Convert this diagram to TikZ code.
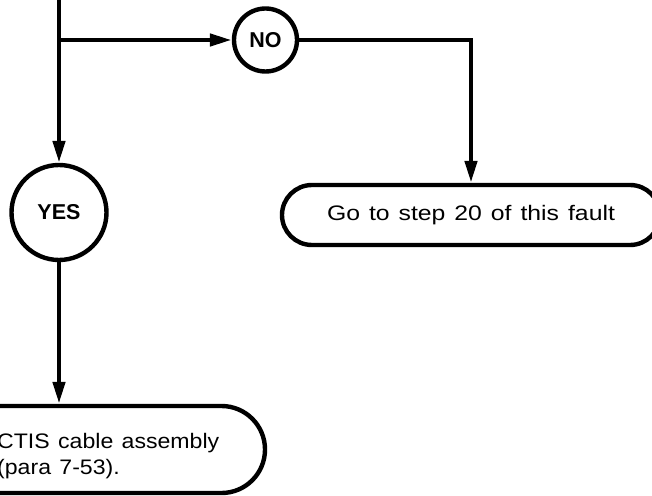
\documentclass[tikz,border=0pt]{standalone}
\usepackage{fontspec}
\setmainfont{Liberation Sans}
\newfontfamily\widefont{Liberation Sans}[FakeStretch=1.18,WordSpace=1.3]
\newfontfamily\midfont{Liberation Sans}[FakeStretch=1.1,WordSpace=1.3]
\usetikzlibrary{arrows.meta}
\begin{document}
\begin{tikzpicture}[x=1bp,y=-1bp,
  flow/.style={line width=4.4bp},
  arr/.style={flow,-{Triangle[length=22bp,width=12bp]}},
  answer/.style={circle,draw,line width=4.4bp,inner sep=0pt,
    font=\fontsize{21.5bp}{26bp}\selectfont\bfseries},
  stadium/.style={rectangle,draw,line width=4.4bp,inner sep=0pt},
  msg/.style={font=\widefont\fontsize{21bp}{26bp}\selectfont},
  msgb/.style={font=\midfont\fontsize{21bp}{26bp}\selectfont}]
\useasboundingbox (0,0) rectangle (652,496);
\clip (0,0) rectangle (652,496);
\coordinate (top) at (59,-10);
\coordinate (br) at (59,40);
\node[answer,minimum size=63bp] (no) at (265.5,40) {NO};
\node[answer,minimum size=95bp] (yes) at (59,212.5) {YES};
\node[stadium,minimum width=378bp,minimum height=60bp,rounded corners=30bp,msg] (go) at (471,215) {Go to step 20 of this fault};
\node[stadium,minimum width=415bp,minimum height=87bp,rounded corners=43.5bp] (repl) at (57.5,449.5) {};
\node[msgb,anchor=base west,align=left,inner sep=0pt] (repltext) at (-3,474) {CTIS cable assembly\\(para 7-53).};
\draw[arr] (top) -- (yes.north);
\draw[arr] (br) -- (no.west);
\draw[arr] (no.east) -| (go.north);
\draw[arr] (yes.south) -- (yes.south |- repl.north);
\end{tikzpicture}
\end{document}
